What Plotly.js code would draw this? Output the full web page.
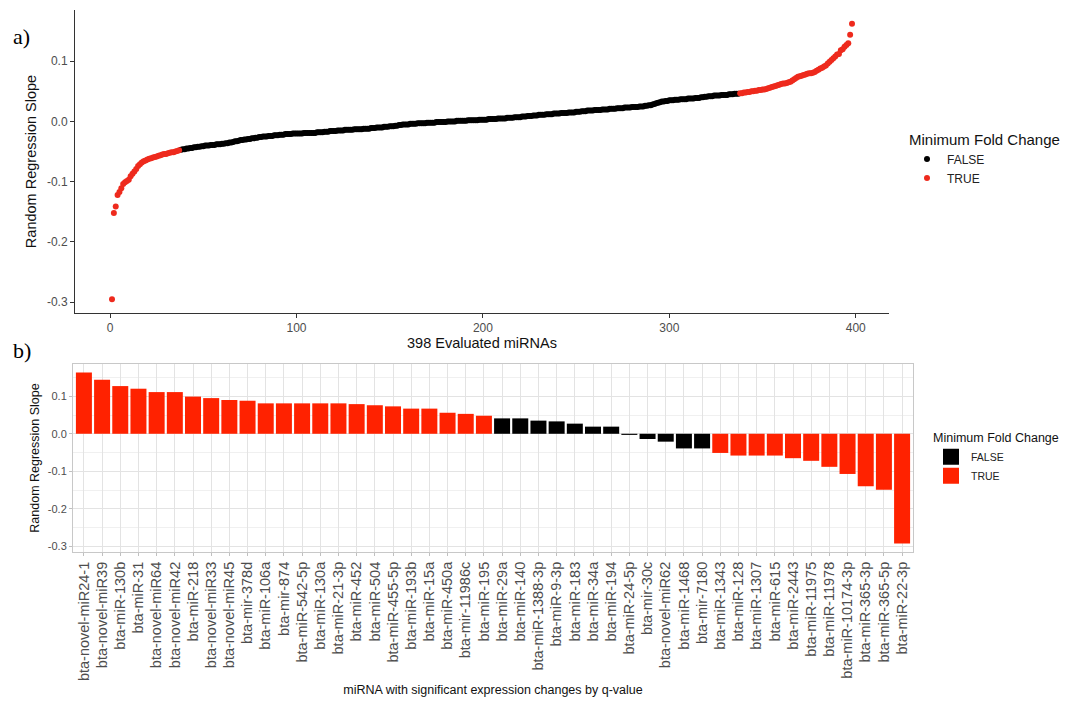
<!DOCTYPE html>
<html>
<head>
<meta charset="utf-8">
<script src="https://cdn.plot.ly/plotly-3.0.1.min.js"></script>
<style>html,body{margin:0;padding:0;background:#fff}#chart{width:1078px;height:702px}</style>
</head>
<body>
<div id="chart"></div>
<script>
// ---------- Panel a: 398 evaluated miRNAs, sorted random regression slopes ----------
// ranks 1..37 (minimum fold change TRUE)
const slopesLowTail = [
-0.295,-0.152,-0.141,-0.122,-0.117,-0.111,-0.104,-0.101,-0.099,-0.097,
-0.091,-0.087,-0.083,-0.079,-0.074,-0.071,-0.068,-0.066,-0.065,-0.063,
-0.062,-0.061,-0.060,-0.059,-0.058,-0.057,-0.056,-0.055,-0.054,-0.054,
-0.053,-0.052,-0.051,-0.051,-0.050,-0.049,-0.048];
// ranks 38..337 (minimum fold change FALSE)
const slopesMiddle = [
-0.047,-0.046,-0.046,-0.045,-0.045,-0.044,-0.044,-0.043,-0.043,-0.042,
-0.042,-0.041,-0.041,-0.040,-0.040,-0.040,-0.039,-0.039,-0.039,-0.038,
-0.038,-0.038,-0.037,-0.037,-0.036,-0.036,-0.035,-0.035,-0.034,-0.033,
-0.033,-0.032,-0.031,-0.031,-0.030,-0.030,-0.029,-0.029,-0.028,-0.028,
-0.027,-0.027,-0.026,-0.026,-0.025,-0.025,-0.025,-0.024,-0.024,-0.024,
-0.023,-0.023,-0.023,-0.022,-0.022,-0.022,-0.021,-0.021,-0.021,-0.021,
-0.020,-0.020,-0.020,-0.020,-0.020,-0.020,-0.019,-0.019,-0.019,-0.019,
-0.019,-0.019,-0.019,-0.018,-0.018,-0.018,-0.018,-0.017,-0.017,-0.017,
-0.016,-0.016,-0.016,-0.016,-0.015,-0.015,-0.015,-0.015,-0.014,-0.014,
-0.014,-0.014,-0.014,-0.013,-0.013,-0.013,-0.013,
-0.013,-0.012,-0.012,-0.012,-0.012,-0.011,-0.011,-0.011,-0.010,-0.010,
-0.010,-0.010,-0.009,-0.009,-0.009,-0.008,-0.008,-0.008,-0.007,-0.007,
-0.006,-0.006,-0.005,-0.005,-0.005,-0.005,-0.004,-0.004,-0.004,-0.004,
-0.003,-0.003,-0.003,-0.003,-0.003,-0.002,-0.002,-0.002,-0.002,-0.002,
-0.001,-0.001,-0.001,-0.001,-0.001,-0.001,0.000,0.000,0.000,0.000,
0.000,0.001,0.001,0.001,0.001,0.001,0.001,0.002,0.002,0.002,
0.002,0.002,0.002,0.003,0.003,0.003,0.003,0.003,0.004,0.004,
0.004,0.004,0.004,0.005,0.005,0.005,0.005,0.005,0.006,0.006,
0.006,0.006,0.007,0.007,0.007,0.007,0.008,0.008,0.008,0.009,
0.009,0.009,0.010,0.010,0.010,0.011,0.011,0.011,0.011,0.012,
0.012,0.012,0.012,
0.013,0.013,0.013,0.013,0.014,0.014,0.014,0.014,0.015,0.015,
0.015,0.015,0.016,0.016,0.016,0.017,0.017,0.017,0.018,0.018,
0.018,0.018,0.019,0.019,0.019,0.019,0.020,0.020,0.020,0.020,
0.021,0.021,0.021,0.021,0.022,0.022,0.022,0.022,0.023,0.023,
0.023,0.023,0.024,0.024,0.024,0.024,0.025,0.025,0.025,0.026,
0.026,0.027,0.027,0.028,0.029,0.030,0.031,0.032,0.033,0.033,
0.034,0.034,0.035,0.035,0.035,0.036,0.036,0.036,0.037,0.037,
0.037,0.037,0.038,0.038,0.038,0.038,0.039,0.039,0.039,0.040,
0.040,0.041,0.041,0.042,0.042,0.042,0.043,0.043,0.043,0.043,
0.044,0.044,0.044,0.044,0.045,0.045,0.045,0.046,0.046,0.046];
// ranks 338..398 (minimum fold change TRUE)
const slopesHighTail = [
0.047,0.047,0.048,0.048,0.049,0.049,0.050,0.050,0.051,0.051,
0.052,0.052,0.053,0.053,0.054,0.055,0.056,0.057,0.058,0.059,
0.060,0.061,0.062,0.063,0.063,0.064,0.065,0.066,0.068,0.070,
0.072,0.074,0.075,0.076,0.077,0.078,0.079,0.080,0.080,0.081,
0.082,0.084,0.086,0.088,0.089,0.091,0.093,0.096,0.099,0.102,
0.105,0.108,0.111,0.112,0.118,0.120,0.124,0.127,0.130,0.144,
0.162];

const rankTicks = [0, 100, 200, 300, 400];
const slopeTickVals = [-0.3, -0.2, -0.1, 0.0, 0.1];
const slopeTickText = ["-0.3", "-0.2", "-0.1", "0.0", "0.1"];

// ---------- Panel b: miRNA with significant expression changes by q-value ----------
const mirnaNames = [
"bta-novel-miR24-1","bta-novel-miR39","bta-miR-130b","bta-miR-31","bta-novel-miR64",
"bta-novel-miR42","bta-miR-218","bta-novel-miR33","bta-novel-miR45","bta-mir-378d",
"bta-miR-106a","bta-mir-874","bta-miR-542-5p","bta-miR-130a","bta-miR-21-3p",
"bta-miR-452","bta-miR-504","bta-miR-455-5p","bta-miR-193b","bta-miR-15a",
"bta-miR-450a","bta-mir-11986c","bta-miR-195","bta-miR-29a","bta-miR-140",
"bta-miR-1388-3p","bta-miR-9-3p","bta-miR-183","bta-miR-34a","bta-miR-194",
"bta-miR-24-5p","bta-mir-30c","bta-novel-miR62","bta-miR-1468","bta-mir-7180",
"bta-miR-1343","bta-miR-128","bta-miR-1307","bta-miR-615","bta-miR-2443",
"bta-miR-11975","bta-miR-11978","bta-miR-10174-3p","bta-miR-365-3p","bta-miR-365-5p",
"bta-miR-22-3p"];
const mirnaSlopes = [
0.163,0.144,0.127,0.120,0.111,0.111,0.099,0.095,0.090,0.088,
0.081,0.081,0.081,0.081,0.081,0.079,0.076,0.073,0.067,0.067,
0.056,0.053,0.048,0.041,0.041,0.035,0.033,0.027,0.019,0.019,
-0.003,-0.014,-0.021,-0.039,-0.039,-0.051,-0.058,-0.058,-0.058,-0.065,
-0.072,-0.088,-0.107,-0.140,-0.149,-0.292];
const mirnaMinFoldChange = [
true,true,true,true,true,true,true,true,true,true,
true,true,true,true,true,true,true,true,true,true,
true,true,true,false,false,false,false,false,false,false,
false,false,false,false,false,true,true,true,true,true,
true,true,true,true,true,true];

// ---------- build traces ----------
const W = 1078, H = 702;
const RED_PT = "#ee2a1d", RED_BAR = "#ff2200", BLACK = "#000000";
const FONT = "Liberation Sans, Arial, Helvetica, sans-serif";

const allSlopes = slopesLowTail.concat(slopesMiddle, slopesHighTail);
const allFlags = slopesLowTail.map(() => true)
  .concat(slopesMiddle.map(() => false), slopesHighTail.map(() => true));
const ptF = {x: [], y: []}, ptT = {x: [], y: []};
allSlopes.forEach((v, i) => { const t = allFlags[i] ? ptT : ptF; t.x.push(i + 1); t.y.push(v); });

const barF = {x: [], y: []}, barT = {x: [], y: []};
mirnaNames.forEach((n, i) => { const t = mirnaMinFoldChange[i] ? barT : barF; t.x.push(n); t.y.push(mirnaSlopes[i]); });

const traces = [
  {type: "scatter", mode: "markers", name: "FALSE", x: ptF.x, y: ptF.y, xaxis: "x", yaxis: "y",
   marker: {color: BLACK, size: 6, line: {width: 0}}, legend: "legend", hoverinfo: "skip"},
  {type: "scatter", mode: "markers", name: "TRUE", x: ptT.x, y: ptT.y, xaxis: "x", yaxis: "y",
   marker: {color: RED_PT, size: 6, line: {width: 0}}, legend: "legend", hoverinfo: "skip"},
  {type: "bar", name: "FALSE", x: barF.x, y: barF.y, xaxis: "x2", yaxis: "y2",
   marker: {color: BLACK, line: {width: 0}}, showlegend: false, hoverinfo: "skip"},
  {type: "bar", name: "TRUE", x: barT.x, y: barT.y, xaxis: "x2", yaxis: "y2",
   marker: {color: RED_BAR, line: {width: 0}}, showlegend: false, hoverinfo: "skip"},
  // legend proxies for panel b (filled squares)
  {type: "scatter", mode: "markers", name: "FALSE", x: [null], y: [null], xaxis: "x2", yaxis: "y2",
   marker: {color: BLACK, symbol: "square", size: 16}, legend: "legend2", hoverinfo: "skip"},
  {type: "scatter", mode: "markers", name: "TRUE", x: [null], y: [null], xaxis: "x2", yaxis: "y2",
   marker: {color: RED_BAR, symbol: "square", size: 16}, legend: "legend2", hoverinfo: "skip"}
];

const layout = {
  width: W, height: H,
  margin: {l: 0, r: 0, t: 0, b: 0},
  paper_bgcolor: "#ffffff", plot_bgcolor: "#ffffff",
  font: {family: FONT, color: "#000"},
  showlegend: true,
  barmode: "overlay", bargap: 0.12,
  xaxis: {
    domain: [75 / W, 889 / W], range: [-18.85, 417.85], anchor: "y",
    tickvals: rankTicks, ticktext: rankTicks.map(String),
    showgrid: false, zeroline: false, showline: true, linecolor: "#333", linewidth: 1,
    ticks: "outside", ticklen: 4, tickcolor: "#333", tickwidth: 1,
    tickfont: {size: 12, color: "#4d4d4d"},
    title: {text: "398 Evaluated miRNAs", font: {size: 14.5, color: "#111"}, standoff: 3}
  },
  yaxis: {
    domain: [1 - 313 / H, 1 - 10 / H], range: [-0.318, 0.185], anchor: "x",
    tickvals: slopeTickVals, ticktext: slopeTickText,
    showgrid: false, zeroline: false, showline: true, linecolor: "#333", linewidth: 1,
    ticks: "outside", ticklen: 4, tickcolor: "#333", tickwidth: 1,
    tickfont: {size: 12, color: "#4d4d4d"},
    title: {text: "Random Regression Slope", font: {size: 14.5, color: "#111"}, standoff: 6}
  },
  xaxis2: {
    domain: [73 / W, 913 / W], type: "category", categoryorder: "array", categoryarray: mirnaNames,
    range: [-0.6, mirnaNames.length - 0.4], anchor: "y2",
    showgrid: true, gridcolor: "#e3e3e3", gridwidth: 1, zeroline: false,
    showline: true, mirror: true, linecolor: "#c8c8c8", linewidth: 1,
    ticks: "outside", ticklen: 3, tickcolor: "#c0c0c0", tickangle: -90,
    tickfont: {size: 14.5, color: "#4d4d4d"},
    title: {text: "miRNA with significant expression changes by q-value", font: {size: 12.5, color: "#111"}, standoff: 5}
  },
  yaxis2: {
    domain: [1 - 552 / H, 1 - 364 / H], range: [-0.3148, 0.1858], anchor: "x2",
    tickvals: slopeTickVals, ticktext: slopeTickText,
    showgrid: true, gridcolor: "#e3e3e3", gridwidth: 1, zeroline: false,
    minor: {dtick: 0.05, tick0: 0, showgrid: true, gridcolor: "#f0f0f0", gridwidth: 1, ticks: ""},
    showline: true, mirror: true, linecolor: "#c8c8c8", linewidth: 1,
    ticks: "outside", ticklen: 3, tickcolor: "#c0c0c0",
    tickfont: {size: 11, color: "#4d4d4d"},
    title: {text: "Random Regression Slope", font: {size: 12.5, color: "#111"}, standoff: 5}
  },
  legend: {
    x: 907 / W, y: 1 - 125 / H, xanchor: "left", yanchor: "top",
    bgcolor: "rgba(0,0,0,0)", borderwidth: 0, tracegroupgap: 0, itemsizing: "trace",
    title: {text: "Minimum Fold Change", font: {size: 15, color: "#111"}},
    font: {size: 12, color: "#222"}
  },
  legend2: {
    x: 931 / W, y: 1 - 426 / H, xanchor: "left", yanchor: "top",
    bgcolor: "rgba(0,0,0,0)", borderwidth: 0, tracegroupgap: 0, itemsizing: "trace",
    title: {text: "Minimum Fold Change", font: {size: 12.5, color: "#111"}},
    font: {size: 10.5, color: "#222"}
  },
  annotations: [
    {text: "a)", xref: "paper", yref: "paper", x: 11 / W, y: 1 - 36 / H, xanchor: "left", yanchor: "middle",
     showarrow: false, font: {family: "Liberation Serif, Times New Roman, serif", size: 22, color: "#000"}},
    {text: "b)", xref: "paper", yref: "paper", x: 11 / W, y: 1 - 350 / H, xanchor: "left", yanchor: "middle",
     showarrow: false, font: {family: "Liberation Serif, Times New Roman, serif", size: 22, color: "#000"}}
  ]
};

Plotly.newPlot("chart", traces, layout, {staticPlot: true, displayModeBar: false});
</script>
</body>
</html>
